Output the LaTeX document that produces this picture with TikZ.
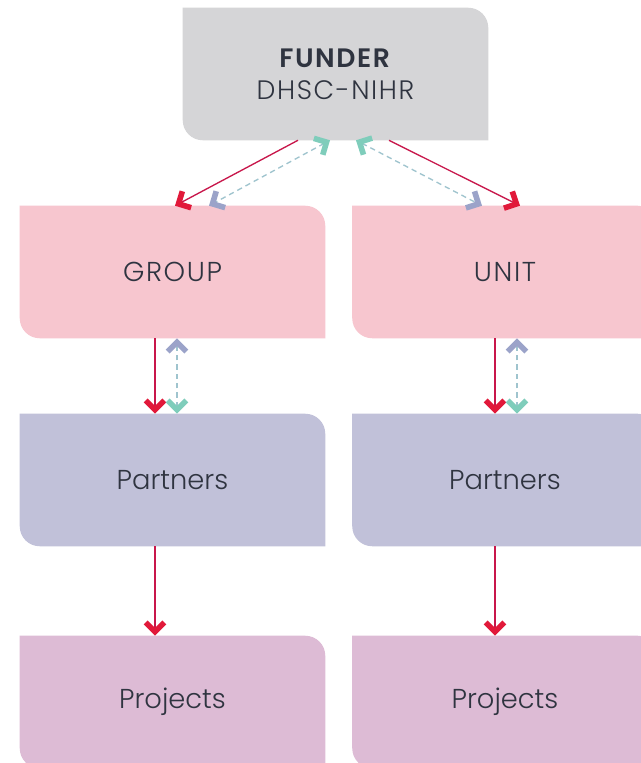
\documentclass[tikz,border=0pt]{standalone}
\usepackage{fontspec}
\setmainfont{Poppins}[UprightFont=* Light, BoldFont=* SemiBold]
\usetikzlibrary{arrows.meta}
\usetikzlibrary{calc}
\usetikzlibrary{backgrounds}
\definecolor{funderGrey}{HTML}{D5D5D7}
\definecolor{groupPink}{HTML}{F7C6CF}
\definecolor{partnerBlue}{HTML}{C1C1D9}
\definecolor{projectMauve}{HTML}{DDBBD5}
\definecolor{textDark}{HTML}{2F3440}
\definecolor{lineRed}{HTML}{C8174B}
\definecolor{tipRed}{HTML}{E1193A}
\definecolor{tipTeal}{HTML}{7FCDBB}
\definecolor{tipPurple}{HTML}{9BA3C9}
\definecolor{lineDash}{HTML}{9FC4CE}
\tikzset{>=latex}
\tikzstyle{box} = [%
					minimum width = 228.75pt,
					minimum height = 99pt,
					inner sep = 0pt,
					align = center,
					text = textDark,
					font = \fontsize{20.5}{24}\selectfont]
\tikzstyle{caps} = [%
					font = \fontsize{20.5}{24}\selectfont\addfontfeature{LetterSpace=6}]
\tikzstyle{flow} = [%
					line width = 1pt,
					color = lineRed,
					-{Straight Barb[sharp, length=7pt, width=14pt, line width=4.2pt, color=tipRed]}]
\tikzstyle{link} = [%
					line width = 1pt,
					color = lineDash,
					dash pattern = on 4pt off 3pt,
					{Straight Barb[sharp, length=7pt, width=14pt, line width=4.2pt, color=tipTeal]}-{Straight Barb[sharp, length=7pt, width=14pt, line width=4.2pt, color=tipPurple]}]
% box with two rounded corners (top right, bottom left)
\newcommand{\boxfill}[2]{%
	\fill[#2] (#1.north west) -- ([xshift=-15pt]#1.north east) arc[start angle=90, end angle=0, radius=15pt] -- (#1.south east) -- ([xshift=15pt]#1.south west) arc[start angle=270, end angle=180, radius=15pt] -- cycle;}

\begin{document}
\begin{tikzpicture}[x=0.75pt, y=-0.75pt]
	
	\useasboundingbox (0,0) rectangle (640,763);
	
	% Nodes
	%% Funder
	\node[box, font=\fontsize{20}{24}\selectfont\addfontfeature{LetterSpace=6}] (funder) at (335.5,74) {\textbf{FUNDER}\\DHSC-NIHR};
	%% Group side
	\node[box, caps] (group) at (172.5,272) {GROUP};
	\node[box] (partnersG) at (172.5,480) {Partners};
	\node[box] (projectsG) at (172.5,702) {Projects};
	%% Unit side
	\node[box, caps] (unit) at (505,272) {UNIT};
	\node[box] (partnersU) at (505,480) {Partners};
	\node[box] (projectsU) at (505,702) {Projects};
	
	\begin{scope}[on background layer]
		\fill[white] (0,0) rectangle (640,763);
		% Boxes
		\boxfill{funder}{funderGrey}
		\boxfill{group}{groupPink}
		\boxfill{unit}{groupPink}
		\boxfill{partnersG}{partnerBlue}
		\boxfill{partnersU}{partnerBlue}
		\boxfill{projectsG}{projectMauve}
		\boxfill{projectsU}{projectMauve}
	\end{scope}
	
	% Funder arrows
	\draw[flow] ($(funder.south)+(-37.5,0)$) -- ($(group.north)+(2.5,0)$);
	\draw[link] ($(funder.south)+(-5.5,0)$) -- ($(group.north)+(36.5,0)$);
	\draw[link] ($(funder.south)+(20.5,0)$) -- ($(unit.north)+(-23,0)$);
	\draw[flow] ($(funder.south)+(53.5,0)$) -- ($(unit.north)+(15,0)$);
	
	% Down arrows
	\draw[flow] ($(group.south)+(-17.5,0)$) -- ($(partnersG.north)+(-17.5,0)$);
	\draw[link] ($(partnersG.north)+(4.5,0)$) -- ($(group.south)+(4.5,0)$);
	\draw[flow] ($(unit.south)+(-10,0)$) -- ($(partnersU.north)+(-10,0)$);
	\draw[link] ($(partnersU.north)+(12,0)$) -- ($(unit.south)+(12,0)$);
	\draw[flow] ($(partnersG.south)+(-17.5,0)$) -- ($(projectsG.north)+(-17.5,0)$);
	\draw[flow] ($(partnersU.south)+(-10,0)$) -- ($(projectsU.north)+(-10,0)$);
\end{tikzpicture}
\end{document}
